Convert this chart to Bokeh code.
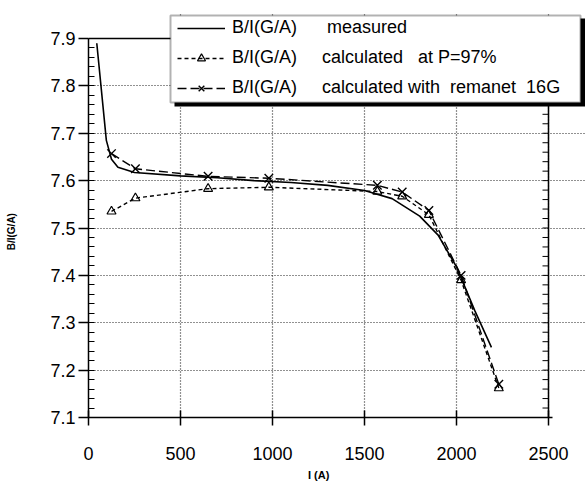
import math
from bokeh.plotting import figure
from bokeh.models import (Range1d, FixedTicker, Legend, LegendItem,
                          BoxAnnotation, PrintfTickFormatter)
from bokeh.embed import file_html
from bokeh.resources import INLINE

FONT = "Liberation Sans"

# measured B/I curve
I_meas = [45, 97, 125, 160, 250, 500, 700, 900, 1100, 1300, 1500, 1650, 1800, 1900, 2000, 2100, 2190]
B_meas = [7.89, 7.685, 7.645, 7.628, 7.617, 7.610, 7.606, 7.600, 7.596, 7.590, 7.579, 7.562, 7.525, 7.485, 7.418, 7.325, 7.248]

# calculated points
I_calc = [125, 255, 650, 980, 1570, 1705, 1850, 2025, 2230]
B_p97 = [7.535, 7.563, 7.583, 7.586, 7.577, 7.567, 7.528, 7.390, 7.162]
B_rem = [7.657, 7.625, 7.609, 7.605, 7.590, 7.576, 7.537, 7.400, 7.170]

x_ticks = [0, 500, 1000, 1500, 2000, 2500]
y_ticks = [7.1, 7.2, 7.3, 7.4, 7.5, 7.6, 7.7, 7.8, 7.9]
y_minor = [round(7.1 + 0.02 * i, 2) for i in range(41)]
x_max, y_min, y_max = 2500, 7.1, 7.9

NB = "\u00a0"
labels = [
    "B/I(G/A)" + NB * 6 + "measured",
    "B/I(G/A)" + NB * 5 + "calculated" + NB * 3 + "at" + NB + "P=97%",
    "B/I(G/A)" + NB * 5 + "calculated" + NB + "with" + NB * 2 + "remanet" + NB * 2 + "16G",
]

# frame: left 88, bottom 417; 2500 -> x=548, 7.9 -> y=38; frame extended to hold the legend
px_per_x = 460 / 2500
px_per_y = 379 / 0.8
p = figure(width=585, height=487, output_backend="svg", toolbar_location=None,
           x_range=Range1d(0, 497 / px_per_x), y_range=Range1d(7.1, 7.1 + 405 / px_per_y),
           min_border_left=88, min_border_right=0, min_border_top=12, min_border_bottom=70,
           background_fill_color="white", border_fill_color="white")
p.outline_line_color = None

# x axis
xa = p.xaxis[0]
xa.ticker = FixedTicker(ticks=x_ticks)
xa.bounds = (0, 2520)
xa.major_tick_in = 7
xa.major_tick_out = 8
xa.minor_tick_in = 0
xa.minor_tick_out = 0
xa.axis_line_width = 1.5
xa.major_tick_line_width = 1.5
xa.major_label_text_font = FONT
xa.major_label_text_font_size = "18px"
xa.major_label_text_color = "black"
xa.major_label_standoff = 21
xa.formatter = PrintfTickFormatter(format="%d")
xa.axis_label = "I (A)" + NB * 12
xa.axis_label_text_font = FONT
xa.axis_label_text_font_size = "11px"
xa.axis_label_text_font_style = "bold"
xa.axis_label_text_color = "black"
xa.axis_label_standoff = 6

# y axis
ya = p.yaxis[0]
ya.ticker = FixedTicker(ticks=y_ticks, minor_ticks=y_minor)
ya.bounds = (7.1, 7.9)
ya.major_tick_in = 0
ya.major_tick_out = 10
ya.minor_tick_in = 6
ya.minor_tick_out = 0
ya.axis_line_width = 1.5
ya.major_tick_line_width = 1.5
ya.major_label_text_font = FONT
ya.major_label_text_font_size = "18px"
ya.major_label_text_color = "black"
ya.major_label_standoff = 3
ya.formatter = PrintfTickFormatter(format="%.1f")
ya.axis_label = "B/I(G/A)" + NB * 12
ya.axis_label_text_font = FONT
ya.axis_label_text_font_size = "10px"
ya.axis_label_text_font_style = "bold"
ya.axis_label_text_color = "black"
ya.axis_label_standoff = 30

# grids
p.xgrid.ticker = FixedTicker(ticks=x_ticks)
p.ygrid.ticker = FixedTicker(ticks=y_ticks)
p.xgrid.bounds = (7.1, 7.9)
p.ygrid.bounds = (0, 2520)
for g in (p.xgrid[0], p.ygrid[0]):
    g.grid_line_color = "#222222"
    g.grid_line_dash = "1 2"
    g.grid_line_width = 1.2

# right border with inward minor ticks, and top border
p.segment(x0=[x_max], y0=[y_min], x1=[x_max], y1=[y_max], line_color="black", line_width=1.5)
p.ray(x=[x_max] * len(y_minor), y=y_minor, length=6, length_units="screen",
      angle=math.pi, line_color="black", line_width=1)
p.segment(x0=[0], y0=[y_max], x1=[x_max], y1=[y_max], line_color="black", line_width=1.5)

r_meas = p.line(I_meas, B_meas, line_color="black", line_width=1.6)
r_p97_l = p.line(I_calc, B_p97, line_color="black", line_width=1.4, line_dash="4 3")
r_p97_m = p.scatter(I_calc, B_p97, marker="triangle", size=9, fill_color=None,
                    line_color="black", line_width=1.2)
r_rem_l = p.line(I_calc, B_rem, line_color="black", line_width=1.4, line_dash="9 4")
r_rem_m = p.scatter(I_calc, B_rem, marker="x", size=12, line_color="black", line_width=1.4)

# legend box with drop shadow (frame-relative screen units)
shadow = BoxAnnotation(left=86, right=497, bottom=311, top=399,
                       left_units="screen", right_units="screen",
                       bottom_units="screen", top_units="screen",
                       fill_color="black", fill_alpha=1, line_color=None)
box = BoxAnnotation(left=82, right=492, bottom=315, top=402,
                    left_units="screen", right_units="screen",
                    bottom_units="screen", top_units="screen",
                    fill_color="white", fill_alpha=1, line_color="black", line_width=2)
p.add_layout(shadow)
p.add_layout(box)

legend = Legend(items=[
    LegendItem(label=labels[0], renderers=[r_meas]),
    LegendItem(label=labels[1], renderers=[r_p97_l, r_p97_m]),
    LegendItem(label=labels[2], renderers=[r_rem_l, r_rem_m]),
], location=(89, 319), margin=0, padding=0, spacing=9,
    glyph_width=48, glyph_height=20, label_height=20, label_standoff=7,
    label_text_font=FONT, label_text_font_size="18px", label_text_color="black",
    border_line_color=None, background_fill_alpha=0)
p.add_layout(legend)

open("out.html", "w").write(file_html(p, INLINE))
